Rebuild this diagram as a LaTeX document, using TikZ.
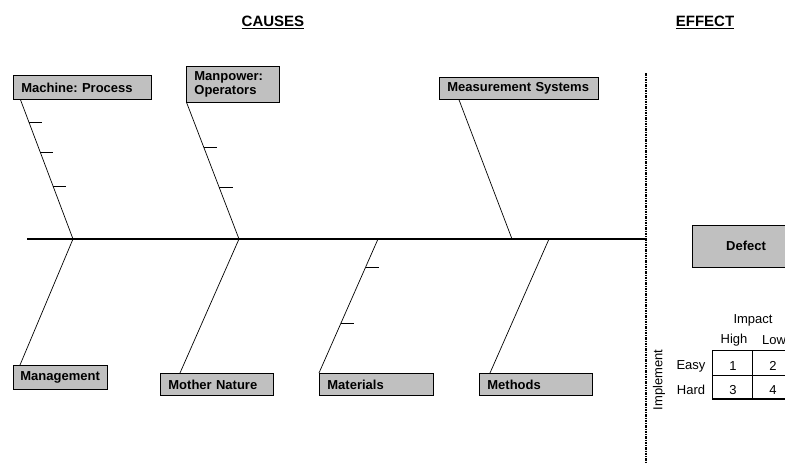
\documentclass[tikz,border=0pt]{standalone}
\usepackage{fontspec}
\setmainfont{Liberation Sans}
\usetikzlibrary{positioning}
\definecolor{boxgray}{RGB}{192,192,192}
\frenchspacing

\begin{document}
\begin{tikzpicture}[x=1pt,y=-1pt]
\tikzstyle{every node}+=[inner sep=0pt]
\tikzstyle{cause}=[draw=black, line width=0.8pt, fill=boxgray, anchor=north west, inner xsep=8pt, align=left, font=\fontsize{13}{13.5}\selectfont\bfseries]
\tikzstyle{bone}=[black, line width=0.7pt]
\tikzstyle{spine}=[black, line width=2pt]
\tikzstyle{lbl}=[font=\fontsize{13}{15}\selectfont]
\tikzstyle{title}=[font=\fontsize{15}{17}\selectfont\bfseries]
\useasboundingbox (0,0) rectangle (785,466);
\node [title] (causes) at (273,22) {\underline{CAUSES}};
\node [title] (effect) at (705,22) {\underline{EFFECT}};
\node [cause, text width=122pt, minimum height=24pt] (mach) at (13,75) {Machine: Process};
\node [cause, text width=77pt, minimum height=36pt] (man) at (186,66) {Manpower:\\Operators};
\node [cause, text width=143pt, minimum height=22pt] (meas) at (439,77) {Measurement Systems};
\node [cause, text width=80pt, inner xsep=7pt, minimum height=24pt] (mgmt) at (13,365) {Management};
\node [cause, text width=97pt, minimum height=22pt] (nature) at (160,373) {Mother Nature};
\node [cause, text width=98pt, minimum height=22pt] (mat) at (319,373) {Materials};
\node [cause, text width=97pt, minimum height=22pt] (meth) at (479,373) {Methods};
\node [cause, anchor=center, align=center, minimum width=108pt, minimum height=42pt] (defect) at (746,246) {Defect};
\coordinate (tail) at (27,239);
\coordinate (head) at (645,239);
\coordinate (j1) at (73,239);
\coordinate (j2) at (239,239);
\coordinate (j3) at (378,239);
\coordinate (j4) at (512,239);
\coordinate (j5) at (549,239);
\coordinate (sepT) at (646,73);
\coordinate (sepB) at (646,463);
\draw [spine] (tail) -- (head);
\draw [black, line width=1.2pt, dash pattern=on 2.5pt off 1pt on 1pt off 1pt] (sepT) -- (sepB);
\draw [bone] ([xshift=7.5]mach.south west) -- (j1) coordinate[pos=0.165] (m1) coordinate[pos=0.374] (m2) coordinate[pos=0.619] (m3);
\draw [bone] (m1) -- ++(13,0);
\draw [bone] (m2) -- ++(13,0);
\draw [bone] (m3) -- ++(13,0);
\draw [bone] ([xshift=0.7]man.south west) -- (j2) coordinate[pos=0.33] (p1) coordinate[pos=0.62] (p2);
\draw [bone] (p1) -- ++(13,0);
\draw [bone] (p2) -- ++(14,0);
\draw [bone] ([xshift=20]meas.south west) -- (j4);
\draw [bone] ([xshift=7]mgmt.north west) -- (j1);
\draw [bone] ([xshift=20]nature.north west) -- (j2);
\draw [bone] (mat.north west) -- (j3) coordinate[pos=0.373] (t1) coordinate[pos=0.791] (t2);
\draw [bone] (t1) -- ++(13,0);
\draw [bone] (t2) -- ++(13,0);
\draw [bone] ([xshift=11]meth.north west) -- (j5);
\node [lbl, rotate=90] (impl) at (659,380) {Implement};
\node [lbl] (impact) at (753,320) {Impact};
\node [lbl] (high) at (734,340) {High};
\node [lbl] (low) at (774,340) {Low};
\node [lbl] (easy) at (691,366) {Easy};
\node [lbl] (hard) at (691,390) {Hard};
\node [lbl] (c1) at (733,366) {1};
\node [lbl] (c2) at (773,366) {2};
\node [lbl] (c3) at (733,390) {3};
\node [lbl] (c4) at (773,390) {4};
\draw [black, line width=0.8pt] (712,350) -- (712,399);
\draw [black, line width=0.8pt] (752,350) -- (752,399);
\draw [black, line width=0.8pt] (712,350) -- (800,350);
\draw [black, line width=0.8pt] (712,375) -- (800,375);
\draw [black, line width=1.6pt] (712,399) -- (800,399);
\end{tikzpicture}
\end{document}
